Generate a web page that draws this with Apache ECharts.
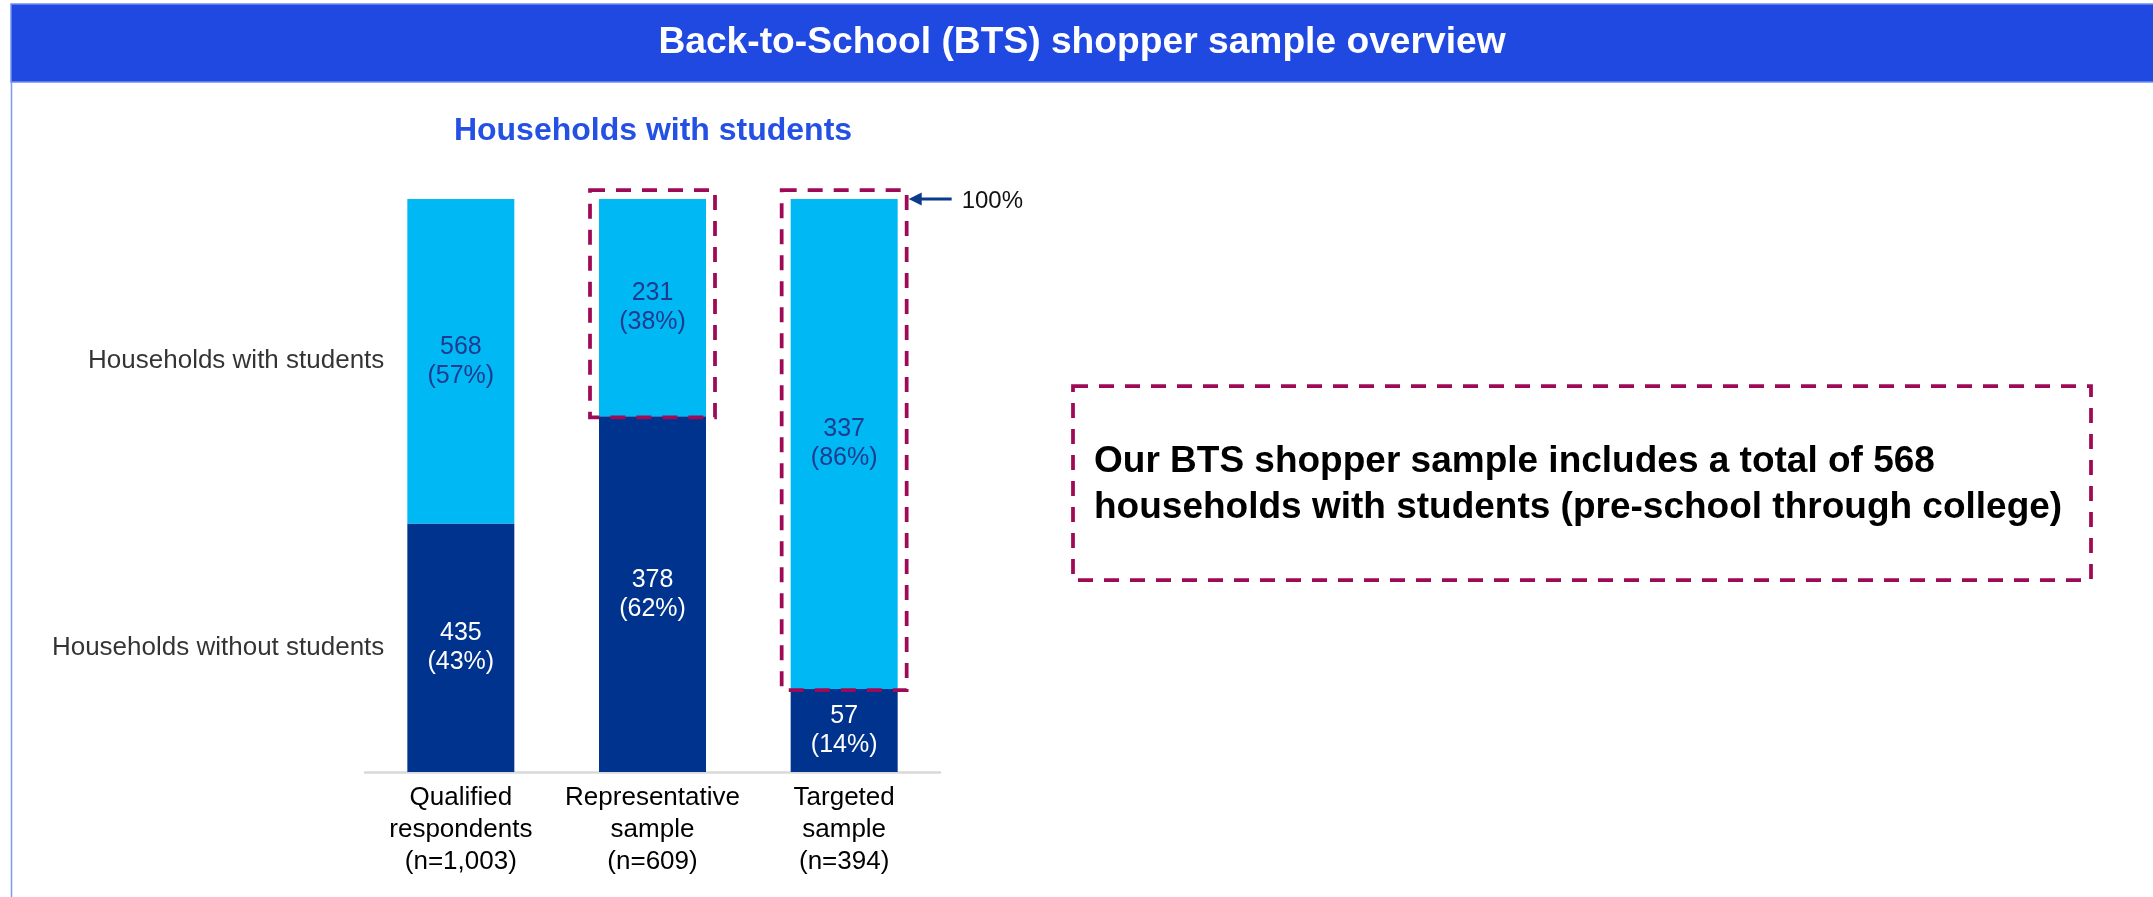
<!DOCTYPE html>
<html>
<head>
<meta charset="utf-8">
<script src="https://cdn.jsdelivr.net/npm/echarts@6/dist/echarts.min.js"></script>
<style>
html,body{margin:0;padding:0;background:#fff;}
#chart{width:2153px;height:897px;}
</style>
</head>
<body>
<div id="chart"></div>
<script>
// ---- data ----
const pageTitle = 'Back-to-School (BTS) shopper sample overview';
const chartTitle = 'Households with students';
const categories = ['Qualified\nrespondents\n(n=1,003)', 'Representative\nsample\n(n=609)', 'Targeted\nsample\n(n=394)'];
const totals = [1003, 609, 394];
const withoutStudents = [435, 378, 57];
const withStudents = [568, 231, 337];
const withoutPct = [43, 62, 14];
const withPct = [57, 38, 86];
const seriesNames = ['Households without students', 'Households with students'];
const boxedCategories = [1, 2];      // "with students" segments outlined
const markerCategory = 2;            // 100% pointer
const markerText = '100%';
const calloutText = 'Our BTS shopper sample includes a total of 568\nhouseholds with students (pre-school through college)';

// ---- styles ----
const FONT = '"Liberation Sans", Arial, Helvetica, sans-serif';
const LIGHT = '#00B8F4';
const DARK = '#00338D';
const MAROON = '#9E0A55';
const BAR_W = 107;
const PAD = 9;

const shareWithout = withoutStudents.map((v, i) => v / totals[i]);
const shareWith = withStudents.map((v, i) => v / totals[i]);

const chart = echarts.init(document.getElementById('chart'), null, {renderer: 'canvas'});

const option = {
  animation: false,
  textStyle: {fontFamily: FONT},
  grid: {left: 365, right: 1213, top: 199, bottom: 125},
  xAxis: {
    type: 'category',
    data: categories,
    axisLine: {lineStyle: {color: '#D9D9D9', width: 2.5}},
    axisTick: {show: false},
    axisLabel: {interval: 0, fontSize: 26, lineHeight: 32, color: '#000', margin: 10, fontFamily: FONT}
  },
  yAxis: {type: 'value', min: 0, max: 1, show: false},
  series: [
    {
      name: seriesNames[0], type: 'bar', stack: 'total', barWidth: BAR_W,
      itemStyle: {color: DARK},
      data: shareWithout,
      label: {
        show: true, position: 'inside', fontSize: 25, lineHeight: 29, color: '#FFFFFF', fontFamily: FONT,
        formatter: p => withoutStudents[p.dataIndex] + '\n(' + withoutPct[p.dataIndex] + '%)'
      }
    },
    {
      name: seriesNames[1], type: 'bar', stack: 'total', barWidth: BAR_W,
      itemStyle: {color: LIGHT},
      data: shareWith,
      label: {
        show: true, position: 'inside', fontSize: 25, lineHeight: 29, color: '#1F3B8F', fontFamily: FONT,
        formatter: p => withStudents[p.dataIndex] + '\n(' + withPct[p.dataIndex] + '%)'
      }
    },
    {
      // row labels at the left of the first bar
      type: 'scatter', silent: true, symbolSize: 1,
      itemStyle: {color: 'transparent'},
      data: [
        [0, shareWithout[0] / 2],
        [0, shareWithout[0] + shareWith[0] / 2]
      ],
      label: {
        show: true, position: 'left', distance: 76, fontSize: 26, color: '#000', fontFamily: FONT,
        formatter: p => seriesNames[p.dataIndex]
      },
      z: 5
    },
    {
      // dashed outline around highlighted segments
      type: 'custom', silent: true,
      encode: {x: 0, y: [1, 2]},
      data: boxedCategories.map(i => [i, shareWithout[i], shareWithout[i] + shareWith[i]]),
      renderItem: (params, api) => {
        const x = api.value(0);
        const top = api.coord([x, api.value(2)]);
        const bot = api.coord([x, api.value(1)]);
        const half = BAR_W / 2 + PAD;
        return {
          type: 'rect',
          shape: {x: top[0] - half, y: top[1] - PAD, width: half * 2, height: bot[1] - top[1] + PAD + 1},
          style: {fill: 'none', stroke: MAROON, lineWidth: 3.75, lineDash: [15, 11]},
          z2: 10
        };
      },
      z: 6
    },
    {
      // 100% pointer
      type: 'custom', silent: true,
      encode: {x: 0, y: 1},
      data: [[markerCategory, 1]],
      renderItem: (params, api) => {
        const p = api.coord([api.value(0), api.value(1)]);
        const tipX = p[0] + BAR_W / 2 + 11;
        const y = p[1];
        return {
          type: 'group',
          children: [
            {type: 'polygon', shape: {points: [[tipX, y], [tipX + 13, y - 6.5], [tipX + 13, y + 6.5]]}, style: {fill: '#0B3A8C'}},
            {type: 'line', shape: {x1: tipX + 10, y1: y, x2: tipX + 43, y2: y}, style: {stroke: '#0B3A8C', lineWidth: 3}},
            {type: 'text', x: tipX + 53, y: y + 2, style: {text: markerText, fontSize: 24, fontFamily: FONT, fill: '#111', textVerticalAlign: 'middle', textAlign: 'left'}}
          ]
        };
      },
      z: 6
    }
  ],
  graphic: [
    {type: 'rect', shape: {x: 11, y: 4, width: 2150, height: 78}, style: {fill: '#2049E2', stroke: '#7090F0', lineWidth: 1.5}, silent: true},
    {type: 'line', shape: {x1: 11.5, y1: 82, x2: 11.5, y2: 897}, style: {stroke: '#7E99F0', lineWidth: 1.5}, silent: true},
    {type: 'text', x: 1082, y: 43, style: {text: pageTitle, fontSize: 37.2, fontWeight: 'bold', fontFamily: FONT, fill: '#FFFFFF', textAlign: 'center', textVerticalAlign: 'middle'}, silent: true},
    {type: 'text', x: 653, y: 131, style: {text: chartTitle, fontSize: 32, fontWeight: 'bold', fontFamily: FONT, fill: '#2450E3', textAlign: 'center', textVerticalAlign: 'middle'}, silent: true},
    {type: 'rect', shape: {x: 1073, y: 386, width: 1018, height: 194}, style: {fill: 'none', stroke: MAROON, lineWidth: 3.75, lineDash: [15, 11]}, silent: true},
    {type: 'text', x: 1094, y: 485, style: {text: calloutText, fontSize: 37, lineHeight: 46, fontWeight: 'bold', fontFamily: FONT, fill: '#000', textAlign: 'left', textVerticalAlign: 'middle'}, silent: true}
  ]
};
chart.setOption(option);
</script>
</body>
</html>
